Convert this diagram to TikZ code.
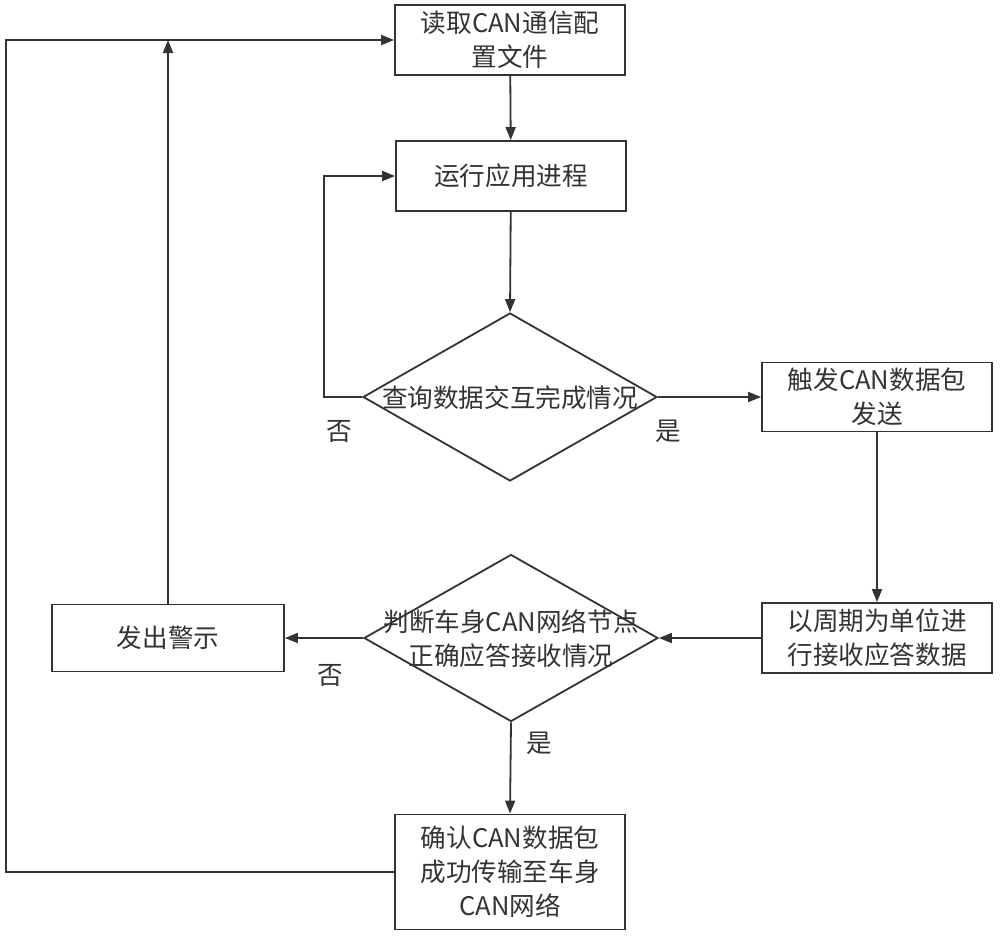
\documentclass[tikz,border=0pt]{standalone}
\usepackage{fontspec}
\setmainfont{Noto Sans CJK SC}
\usetikzlibrary{shapes.geometric,arrows.meta}
\definecolor{ink}{HTML}{333333}
\begin{document}
\begin{tikzpicture}[x=1pt,y=-1pt,
  every node/.style={text=ink,font=\fontsize{25.6}{34}\selectfont},
  box/.style={draw=ink,line width=1.8pt,rectangle,inner sep=0pt,align=center,minimum width=230pt},
  dia/.style={draw=ink,line width=1.8pt,diamond,inner sep=0pt,minimum width=294pt,minimum height=168pt},
  txt/.style={align=center,inner sep=0pt},
  arr/.style={draw=ink,line width=1.8pt,-{Triangle[length=13pt,width=10pt]}},
  ln/.style={draw=ink,line width=1.8pt}]
\useasboundingbox (0,0) rectangle (1000,937);
\node[box,minimum height=70pt] (b1) at (510,40) {读取CAN通信配\\置文件};
\node[box,minimum height=70pt] (b2) at (511,176) {运行应用进程};
\node[dia] (d1) at (510,397) {};
\node[txt] (d1t) at (510,398) {查询数据交互完成情况};
\node[box,minimum height=69pt] (b3) at (877,397) {触发CAN数据包\\发送};
\node[box,minimum height=70pt] (b4) at (877,638) {以周期为单位进\\行接收应答数据};
\node[dia,minimum height=167pt] (d2) at (511,638) {};
\node[txt] (d2t) at (511,639) {判断车身CAN网络节点\\正确应答接收情况};
\node[box,minimum width=232pt,minimum height=67pt] (b5) at (168,638) {发出警示};
\node[box,minimum height=115pt] (b6) at (510,872) {确认CAN数据包\\成功传输至车身\\CAN网络};
\node[txt] (no1) at (339,431) {否};
\node[txt] (yes1) at (668,431) {是};
\node[txt] (no2) at (330,675) {否};
\node[txt] (yes2) at (539,743) {是};
\coordinate (cn) at (324,397);
\coordinate (cl) at (6,872);
\draw[arr] (b1) -- (b2);
\draw[arr] (b2) -- (d1.north);
\draw[arr] (d1.west) -- (cn) |- (b2.west);
\draw[arr] (d1.east) -- (b3.west);
\draw[arr] (b3) -- (b4);
\draw[arr] (b4.west) -- (d2.east);
\draw[arr] (d2.west) -- (b5.east);
\draw[arr] (d2.south) -- (b6.north);
\draw[arr] (b5.north) -- (b5.north |- b1.west);
\draw[arr] (b6.west) -- (cl) |- (b1.west);
\end{tikzpicture}
\end{document}
